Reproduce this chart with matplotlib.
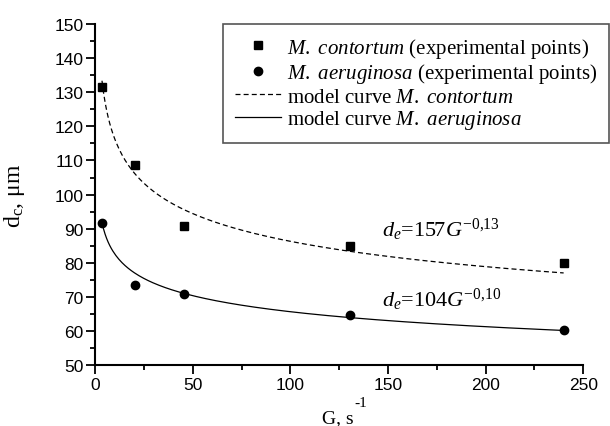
import numpy as np
import matplotlib
matplotlib.use("Agg")
import matplotlib.pyplot as plt
from matplotlib.ticker import MultipleLocator

plt.rcParams["mathtext.fontset"] = "custom"
plt.rcParams["mathtext.rm"] = "Liberation Serif"
plt.rcParams["mathtext.it"] = "Liberation Serif:italic"

# experimental points
g_pontos = [3.5, 20.5, 45.5, 130.5, 240]
d_contortum = [131.5, 108.7, 90.9, 85.0, 79.9]
d_aeruginosa = [91.6, 73.6, 70.7, 64.7, 60.3]

# model d = a * G^b (coefficients shown on the chart)
coef_contortum = (157, -0.13)
coef_aeruginosa = (104, -0.10)
g_modelo = np.linspace(3.5, 240, 300)

fig = plt.figure(figsize=(6.1, 4.27), dpi=100)
ax = fig.add_axes([0.156, 0.143, 0.8, 0.798])

ax.plot(g_modelo, coef_contortum[0] * g_modelo ** coef_contortum[1], "k--", lw=0.9,
        dashes=(4, 2.5), label=r"model curve $\mathit{M.\ contortum}$", zorder=2)
ax.plot(g_modelo, coef_aeruginosa[0] * g_modelo ** coef_aeruginosa[1], "k-", lw=0.9,
        label=r"model curve $\mathit{M.\ aeruginosa}$", zorder=2)
ax.plot(g_pontos, d_contortum, "ks", ms=5.3, ls="none",
        label=r"$\mathit{M.\ contortum}$ (experimental points)", zorder=3)
ax.plot(g_pontos, d_aeruginosa, "ko", ms=6, ls="none",
        label=r"$\mathit{M.\ aeruginosa}$ (experimental points)", zorder=3)

ax.set_xlim(0, 250)
ax.set_ylim(50, 150)
ax.xaxis.set_major_locator(MultipleLocator(50))
ax.xaxis.set_minor_locator(MultipleLocator(25))
ax.yaxis.set_major_locator(MultipleLocator(10))
ax.yaxis.set_minor_locator(MultipleLocator(5))
ax.tick_params(which="both", direction="out", width=1.3, labelsize=12.5)
ax.tick_params(which="major", length=6.5, pad=2)
ax.tick_params(which="minor", length=3.6)
for lbl in ax.get_xticklabels() + ax.get_yticklabels():
    lbl.set_family("Liberation Sans")

ax.spines["top"].set_visible(False)
ax.spines["right"].set_visible(False)
ax.spines["left"].set_linewidth(1.5)
ax.spines["bottom"].set_linewidth(1.5)

ax.set_ylabel(r"d$_\mathrm{c}$, μm", family="Liberation Serif", fontsize=17)
ax.yaxis.set_label_coords(-0.139, 0.5)

fig.text(0.554, 0.0, "G, s", family="Liberation Serif", fontsize=14, ha="center", va="bottom")
fig.text(0.591, 0.056, "-1", family="Liberation Serif", fontsize=11, ha="center", va="center")

ax.text(147, 88, r"$d_e$=157$G^{-0{,}13}$", family="Liberation Serif", fontsize=16)
ax.text(147, 67.3, r"$d_e$=104$G^{-0{,}10}$", family="Liberation Serif", fontsize=16)

handles, labels = ax.get_legend_handles_labels()
ordem = [2, 3, 0, 1]
leg = ax.legend([handles[i] for i in ordem], [labels[i] for i in ordem],
                loc="upper right", bbox_to_anchor=(1.052, 1.0),
                prop={"family": "Liberation Serif", "size": 15},
                fancybox=False, framealpha=1, edgecolor="#555555",
                handlelength=2.2, handletextpad=0.3, borderpad=0.55,
                labelspacing=0.08, borderaxespad=0)
leg.get_frame().set_linewidth(1.2)

plt.savefig("out.png", dpi=100)
plt.close()
